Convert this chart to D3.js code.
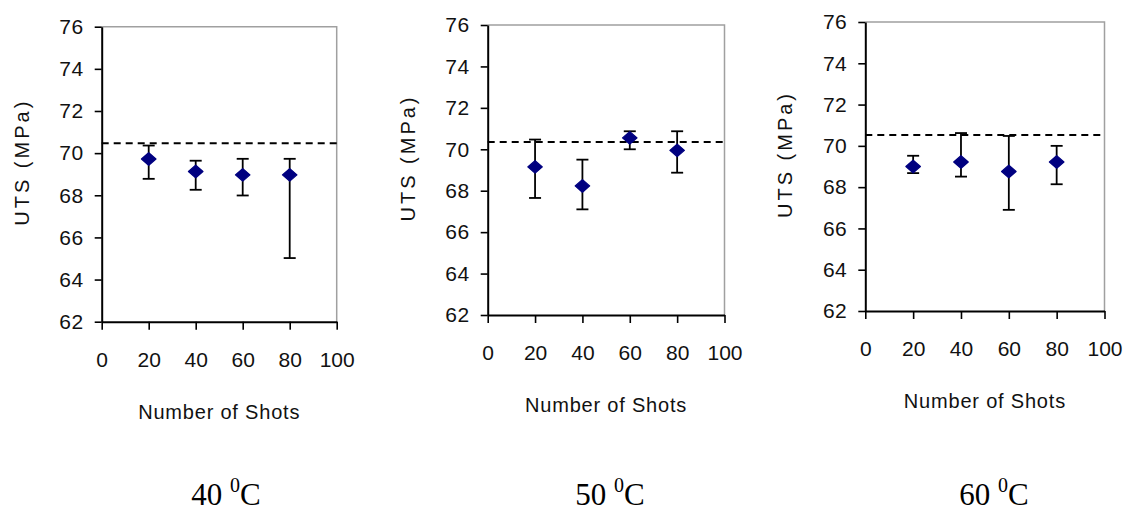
<!DOCTYPE html>
<html><head><meta charset="utf-8">
<script src="https://cdn.jsdelivr.net/npm/d3@7"></script>
<style>
html,body{margin:0;padding:0;background:#fff;}
svg{display:block;}
</style></head>
<body>
<svg id="chart" width="1128" height="511"></svg>
<script>
// ---- data ----
const shots = [20, 40, 60, 80];
const xTicks = [0, 20, 40, 60, 80, 100];
const yTicks = [62, 64, 66, 68, 70, 72, 74, 76];

const uts40 = [69.72, 69.13, 68.97, 68.97];
const hi40  = [70.36, 69.64, 69.73, 69.73];
const lo40  = [68.78, 68.26, 67.99, 65.02];

const uts50 = [69.15, 68.23, 70.55, 69.95];
const hi50  = [70.47, 69.50, 70.87, 70.87];
const lo50  = [67.65, 67.10, 70.00, 68.87];

const uts60 = [69.00, 69.22, 68.76, 69.22];
const hi60  = [69.52, 70.62, 70.48, 70.00];
const lo60  = [68.68, 68.51, 66.90, 68.14];

const refLines = [70.47, 70.35, 70.52];
const temps = ["40", "50", "60"];
const xTitle = "Number of Shots";
const yTitle = "UTS (MPa)";

// ---- layout (pixel frames of the three panels) ----
const frames = [
  {x0: 101.7, x1: 336.7, yTop: 26.7, yBot: 321.7, capX: 226},
  {x0: 487.7, x1: 724.5, yTop: 25,   yBot: 315,   capX: 610},
  {x0: 865.3, x1: 1104.5, yTop: 22,  yBot: 311,   capX: 994}
];
const series = [
  {v: uts40, hi: hi40, lo: lo40},
  {v: uts50, hi: hi50, lo: lo50},
  {v: uts60, hi: hi60, lo: lo60}
];

const svg = d3.select("#chart");
const font = "'Liberation Sans', Arial, sans-serif";

frames.forEach((f, i) => {
  const s = series[i];
  const x = d3.scaleLinear().domain([0, 100]).range([f.x0, f.x1]);
  const y = d3.scaleLinear().domain([62, 76]).range([f.yBot, f.yTop]);
  const g = svg.append("g");

  // top & right border (gray)
  g.append("path")
    .attr("d", `M${f.x0},${f.yTop}H${f.x1}V${f.yBot}`)
    .attr("fill", "none").attr("stroke", "#a0a0a0").attr("stroke-width", 1.5);

  // y axis
  const ya = g.append("g").attr("transform", `translate(${f.x0},0)`)
    .call(d3.axisLeft(y).tickValues(yTicks).tickSize(7).tickPadding(11).tickSizeOuter(0));
  ya.select(".domain").attr("stroke", "#000").attr("stroke-width", 2);
  ya.selectAll(".tick line").attr("stroke", "#000").attr("stroke-width", 1.6);
  ya.selectAll(".tick text").attr("font-family", font).attr("font-size", 21)
    .attr("letter-spacing", 0.5).attr("fill", "#111");

  // x axis
  const xa = g.append("g").attr("transform", `translate(0,${f.yBot})`)
    .call(d3.axisBottom(x).tickValues(xTicks).tickSize(8).tickPadding(22).tickSizeOuter(0));
  xa.select(".domain").attr("stroke", "#000").attr("stroke-width", 2);
  xa.selectAll(".tick line").attr("stroke", "#000").attr("stroke-width", 1.6);
  xa.selectAll(".tick text").attr("font-family", font).attr("font-size", 21).attr("fill", "#111");

  // dashed reference line
  g.append("line")
    .attr("x1", x(0)).attr("x2", x(100))
    .attr("y1", y(refLines[i])).attr("y2", y(refLines[i]))
    .attr("stroke", "#000").attr("stroke-width", 2).attr("stroke-dasharray", "7,5");

  // error bars
  const eb = g.append("g").attr("stroke", "#000").attr("stroke-width", 1.8);
  shots.forEach((sx, k) => {
    const cx = x(sx);
    eb.append("line").attr("x1", cx).attr("x2", cx).attr("y1", y(s.hi[k])).attr("y2", y(s.lo[k]));
    eb.append("line").attr("x1", cx - 6).attr("x2", cx + 6).attr("y1", y(s.hi[k])).attr("y2", y(s.hi[k]));
    eb.append("line").attr("x1", cx - 6).attr("x2", cx + 6).attr("y1", y(s.lo[k])).attr("y2", y(s.lo[k]));
  });

  // markers (diamonds)
  g.selectAll("path.pt").data(shots).enter().append("path")
    .attr("class", "pt")
    .attr("d", d3.symbol().type(d3.symbolDiamond2).size(100))
    .attr("transform", (d, k) => `translate(${x(d)},${y(s.v[k])}) scale(1.15,1)`)
    .attr("fill", "#000080").attr("stroke", "#000080").attr("stroke-width", 1.2)
    .attr("stroke-linejoin", "round");

  // axis titles
  g.append("text")
    .attr("x", (f.x0 + f.x1) / 2).attr("y", f.yBot + 97)
    .attr("text-anchor", "middle").attr("font-family", font).attr("font-size", 20)
    .attr("letter-spacing", 0.8).attr("fill", "#111").text(xTitle);
  g.append("text")
    .attr("transform", `translate(${f.x0 - 73},${(f.yTop + f.yBot) / 2 - 12}) rotate(-90)`)
    .attr("text-anchor", "middle").attr("font-family", font).attr("font-size", 20)
    .attr("letter-spacing", 3).attr("fill", "#111").text(yTitle);

  // caption
  const cap = svg.append("text")
    .attr("x", f.capX).attr("y", 505)
    .attr("text-anchor", "middle")
    .attr("font-family", "'Liberation Serif', 'Times New Roman', serif")
    .attr("font-size", 31).attr("fill", "#000");
  cap.append("tspan").text(temps[i] + " ");
  cap.append("tspan").attr("font-size", 20).attr("dy", -13).text("0");
  cap.append("tspan").attr("dy", 13).text("C");
});
</script>
</body></html>
